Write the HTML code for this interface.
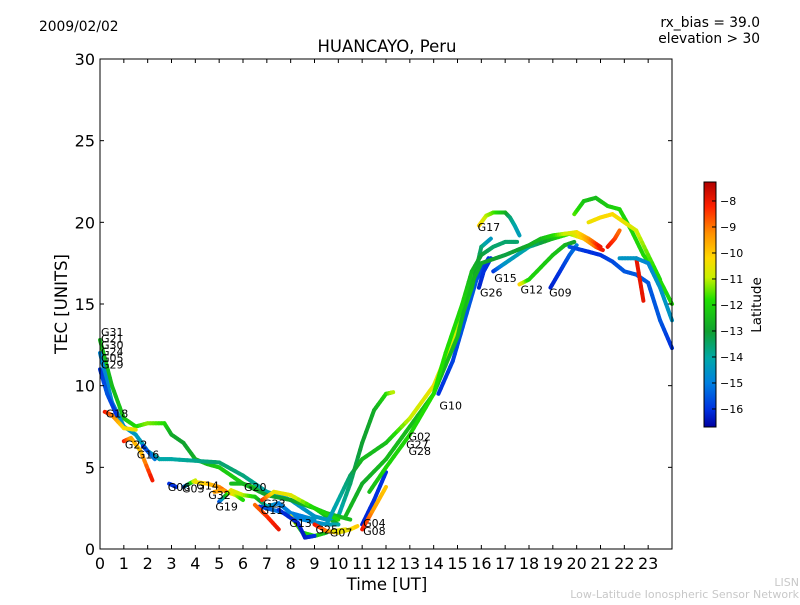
<!DOCTYPE html>
<html><head><meta charset="utf-8"><style>
body{margin:0;background:#fff}
svg text{font-family:"DejaVu Sans","Liberation Sans",sans-serif}
</style></head><body>
<svg id="c" width="800" height="600" xmlns="http://www.w3.org/2000/svg">
<defs>
<linearGradient id="cbg" x1="0" y1="0" x2="0" y2="1">
<stop offset="0" stop-color="#b00000"/><stop offset="0.1" stop-color="#ff2000"/>
<stop offset="0.21" stop-color="#ff9000"/><stop offset="0.31" stop-color="#ffd800"/>
<stop offset="0.39" stop-color="#c8f000"/><stop offset="0.48" stop-color="#20e000"/>
<stop offset="0.61" stop-color="#10a030"/><stop offset="0.72" stop-color="#00a8a8"/>
<stop offset="0.82" stop-color="#0080e0"/><stop offset="0.93" stop-color="#0030e0"/>
<stop offset="1" stop-color="#0000a0"/>
</linearGradient>
</defs>
<text x="39" y="31" font-size="13.8">2009/02/02</text>
<text x="760" y="27" font-size="13.8" text-anchor="end">rx_bias = 39.0</text>
<text x="760" y="43" font-size="13.8" text-anchor="end">elevation &gt; 30</text>
<text x="387" y="52" font-size="16.5" text-anchor="middle">HUANCAYO, Peru</text>
<text x="387" y="590" font-size="16.5" text-anchor="middle">Time [UT]</text>
<text x="67" y="304" font-size="16.5" text-anchor="middle" transform="rotate(-90 67 304)">TEC [UNITS]</text>
<text x="799" y="586" font-size="11" fill="#c8c8c8" text-anchor="end">LISN</text>
<text x="799" y="598" font-size="11" fill="#c8c8c8" text-anchor="end">Low-Latitude Ionospheric Sensor Network</text>
<g id="plot"></g>
<rect x="100" y="59" width="572" height="490" fill="none" stroke="#000" stroke-width="1"/>
<g id="axes"></g>
<rect x="704" y="182" width="12" height="245" fill="url(#cbg)" stroke="#000" stroke-width="1"/>
<g id="cbticks"></g>
<text x="761" y="305" font-size="13.5" text-anchor="middle" transform="rotate(-90 761 305)">Latitude</text>
</svg>
<script>
const xTicks=[0,1,2,3,4,5,6,7,8,9,10,11,12,13,14,15,16,17,18,19,20,21,22,23];
const yTicks=[0,5,10,15,20,25,30];
const cbTicks=[-8,-9,-10,-11,-12,-13,-14,-15,-16];
const trackNames=["G31","G21","G18","G22","G16","G06","G03","G14","G32","G19","G20","G11","G23","G13","G25","G07","G04","G08","R1","R2","G10","G17","G26","G15","G12","G09","G02","G27","G28","E1","E2","E3","E4","E5","E6","E7"];
const trackT=[
[0,0.5,1,1.5,2,2.7,3,3.5,4,4.5,5,6,7,8,9,9.5,10],
[0,0.5,1,1.5,2,2.5,3,4,5,6,7,8,9,9.5,10,10.5,11,11.5,12,12.3],
[0.2,0.5,1,1.5],
[1,1.3,1.7,2.2],
[1.8,2.3],
[2.9,3.2],
[3.5,4],
[4,4.5,5,5.3,5.7,6],
[4.8,5.2],
[5,5.5,6,6.5,7,7.5,8,8.5,9],
[5.5,6,7,8,9,9.5,10.5],
[6.7,7.5,8.5,9.5,10],
[6.8,7.3,8,9,10],
[8,8.5,9,9.5],
[9,9.5,10,10.5,10.8],
[9.8,10.3],
[11,11.5,12],
[11,11.5,12],
[6.5,7,7.5],
[7.5,8.3,8.6,9],
[14.2,14.8,15.3,15.8,16.3],
[15.9,16.2,16.5,17,17.2,17.4,17.6],
[15.9,16.1,16.4],
[16.5,17,18,19,19.7,20.3,20.8,21.1],
[17.6,18,19,19.5,19.9],
[18.9,19.3,19.7,20],
[9.5,10,10.5,11,12,13,14,15,15.6,16,16.4],
[10.3,11,12,13,14,15,15.5,16,16.6,17,17.5,18,18.5,19,19.5,20,20.5,21],
[11.3,12,13,14,14.5,15.2,15.6,16,16.5,17,17.5],
[19.7,20.5,21,21.5,22,22.5,23,23.5,24],
[19.9,20.3,20.8,21.3,21.8,22.3,22.8,23.3,24],
[20.5,21,21.5,22,22.5,23,23.5],
[21.3,21.6,21.8],
[22.5,22.8],
[21.8,22.5,23,23.5,24],
[0,0.3,0.7]
];
const trackV=[
[12.8,10,8,7.5,7.7,7.7,7,6.5,5.5,5.2,5,4,3.5,3,2.5,2,1.5],
[12,9,7.5,7,6,5.5,5.5,5.4,5.3,4.5,3.5,3,2,1.8,2,4,6.5,8.5,9.5,9.6],
[8.4,8.2,7.4,7.3],
[6.6,6.8,6,4.2],
[6.3,5.5],
[4,3.8],
[3.8,4.2],
[4.1,4,3.8,3.5,3.3,3],
[3.5,3.6],
[2.9,3.6,3.3,3.2,2.6,2.8,2.2,2,1.8],
[4,4,3.3,3,2.5,2.2,1.8],
[2.6,2.3,1.8,1.5,1.5],
[3,3.5,3.3,2.5,1.8],
[2,1,0.8,1],
[1.5,1.1,1,1.2,1.4],
[1.1,1.2],
[1.5,3,4.7],
[1.2,2.5,3.8],
[2.7,2,1.2],
[2.4,1.6,0.7,0.8],
[9.5,11.5,14,16.5,17.8],
[19.8,20.4,20.6,20.6,20.3,19.8,19.2],
[16,17,17.8],
[17,17.5,18.5,19,19.3,19,18.5,18.3],
[16.2,16.5,18,18.6,18.8],
[16,17,18,18.6],
[1.5,3,4.5,5.5,6.5,8,10,13.5,16,18.5,19],
[2,4,5.5,7.5,9.5,13,16,17.5,17.8,18,18.3,18.6,19,19.2,19.3,19.4,19,18.5],
[3.5,5,7,9.5,12,15,17,18,18.5,18.8,18.8],
[18.5,18.2,18,17.6,17,16.8,16.3,14,12.3],
[20.5,21.3,21.5,21,20.8,19.5,18,17,15],
[20,20.3,20.5,20,19.5,18,16.5],
[18.5,19,19.5],
[17.8,15.2],
[17.8,17.8,17.5,16,14],
[11,9.5,8.2]
];
const trackL=[
[-12.5,-12.5,-12.3,-12,-11.3,-11.8,-12.8,-13,-12.7,-12.5,-12.2,-12.2,-11.8,-12,-12.3,-12.5,-12.8],
[-14.8,-14.8,-14.6,-14.4,-14.2,-14,-14,-13.8,-13.5,-13.6,-14,-14.5,-14.5,-14.5,-14.2,-13.5,-13,-12.8,-12,-11],
[-8,-9,-10.2,-10.5],
[-8,-9.5,-10,-8],
[-16,-15],
[-16,-16],
[-16,-10.5],
[-10.5,-10,-9.5,-8.5,-11,-12],
[-9.5,-9.5],
[-16,-10.5,-11,-12,-14,-15,-15,-15,-14.5],
[-12.5,-12.5,-13,-13,-12.5,-12.5,-12.5],
[-16,-15,-15,-14.5,-14],
[-8.2,-10.5,-10.5,-12,-12],
[-10.5,-12,-12,-12.5],
[-8,-9,-10.5,-10.5,-10],
[-10.5,-10.5],
[-16.2,-16,-16],
[-8,-9.5,-10],
[-9,-8.5,-8],
[-16,-16.2,-16.3,-16],
[-16,-15.8,-15.5,-15.5,-16],
[-10,-11,-11.5,-12.5,-13.5,-14,-14.3],
[-16.2,-16,-16],
[-16,-14.5,-14,-12.5,-11.5,-10,-9,-8],
[-10,-12,-12.3,-12.5,-13],
[-16.2,-16,-15.5,-15],
[-14.5,-14,-13.5,-12.5,-12.5,-11,-10.5,-11,-12.5,-13.5,-14.5],
[-12.5,-12.8,-12.5,-12.5,-12.5,-12.5,-12.5,-12.8,-13,-13.2,-13,-12.8,-12.5,-12,-11,-10.5,-9.5,-8],
[-12.5,-12,-12,-11.8,-11.8,-12,-12.5,-13,-13.5,-13.5,-13.5],
[-15.5,-16,-16,-15.7,-15.5,-15.5,-15.5,-15.5,-16],
[-11.5,-12.3,-12.5,-12.2,-12,-12,-12,-11.8,-12],
[-10.5,-10.3,-10.2,-10.5,-10.8,-11.5,-12],
[-8,-8.5,-9],
[-8,-8],
[-14.5,-14.5,-14.8,-14.5,-14.5],
[-16,-15.5,-16]
];
const labelNames=["G31","G21","G30","G24","G05","G29","G18","G22","G16","G06","G03","G14","G32","G19","G20","G23","G11","G13","G25","G07","G04","G08","G02","G27","G28","G10","G17","G26","G15","G12","G09"];
const labelT=[0,0,0,0,0,0,0.2,1,1.5,2.8,3.4,4,4.5,4.8,6,6.8,6.7,7.9,9,9.6,11,11,12.9,12.8,12.9,14.2,15.8,15.9,16.5,17.6,18.8];
const labelV=[13.3,12.9,12.5,12.1,11.7,11.3,8.3,6.4,5.8,3.8,3.7,3.9,3.3,2.6,3.8,2.8,2.4,1.6,1.2,1.0,1.6,1.1,6.9,6.4,6.0,8.8,19.7,15.7,16.6,15.9,15.7];

const NS="http://www.w3.org/2000/svg";
const X0=100,X1=672,Y0=549,Y1=59;
function xs(t){return X0+t*(X1-X0)/24;}
function ys(v){return Y0-v*(Y0-Y1)/30;}
const cstops=[[-7.3,[176,0,0]],[-8.3,[255,32,0]],[-9.3,[255,144,0]],[-10.2,[255,216,0]],[-11,[200,240,0]],[-11.8,[32,224,0]],[-13,[16,160,48]],[-14,[0,168,168]],[-15,[0,128,224]],[-16,[0,48,224]],[-16.7,[0,0,160]]];
function col(l){
  if(l>=cstops[0][0])return "rgb("+cstops[0][1]+")";
  for(let i=0;i<cstops.length-1;i++){const a=cstops[i],b=cstops[i+1];
    if(l<=a[0]&&l>=b[0]){const f=(a[0]-l)/(a[0]-b[0]);
      return "rgb("+a[1].map((c,k)=>Math.round(c+(b[1][k]-c)*f)).join(",")+")";}}
  return "rgb(0,0,160)";}
function mk(tag,attrs,parent){const e=document.createElementNS(NS,tag);for(const k in attrs)e.setAttribute(k,attrs[k]);parent.appendChild(e);return e;}
const plot=document.getElementById("plot");
for(let i=0;i<trackT.length;i++){
  const g=mk("g",{},plot);
  
  
  const T=trackT[i],V=trackV[i],L=trackL[i];
  for(let j=0;j<T.length-1;j++){
    const n=6;
    for(let s=0;s<n;s++){
      const f0=s/n,f1=(s+1)/n;
      const t0=T[j]+(T[j+1]-T[j])*f0,t1=T[j]+(T[j+1]-T[j])*f1;
      const v0=V[j]+(V[j+1]-V[j])*f0,v1=V[j]+(V[j+1]-V[j])*f1;
      const l=L[j]+(L[j+1]-L[j])*(f0+f1)/2;
      mk("line",{x1:xs(t0),y1:ys(v0),x2:xs(t1),y2:ys(v1),stroke:col(l),"stroke-width":4,"stroke-linecap":"round"},g);
    }
  }
}
for(let i=0;i<labelNames.length;i++){
  const t=mk("text",{x:xs(labelT[i])+1,y:ys(labelV[i])+4,"font-size":11,fill:"#000"},plot);
  t.textContent=labelNames[i];
  
  
}
const ax=document.getElementById("axes");
xTicks.forEach(v=>{
  const x=xs(v);
  mk("line",{x1:x,y1:Y0,x2:x,y2:Y0-4,stroke:"#000"},ax);
  mk("line",{x1:x,y1:Y1,x2:x,y2:Y1+4,stroke:"#000"},ax);
  const t=mk("text",{x:x,y:569,"font-size":16,"text-anchor":"middle"},ax);
  t.textContent=v;
  
  
});
yTicks.forEach(v=>{
  const y=ys(v);
  mk("line",{x1:X0,y1:y,x2:X0+4,y2:y,stroke:"#000"},ax);
  mk("line",{x1:X1,y1:y,x2:X1-4,y2:y,stroke:"#000"},ax);
  const t=mk("text",{x:95,y:y+6,"font-size":16,"text-anchor":"end"},ax);
  t.textContent=v;
  
  
});
const cb=document.getElementById("cbticks");
cbTicks.forEach(v=>{
  const y=182+(-7.27-v)*26;
  mk("line",{x1:712,y1:y,x2:716,y2:y,stroke:"#000"},cb);
  const t=mk("text",{x:720,y:y+4,"font-size":11},cb);
  t.textContent="\u2212"+Math.abs(v);
  
  
});
</script>
</body></html>
